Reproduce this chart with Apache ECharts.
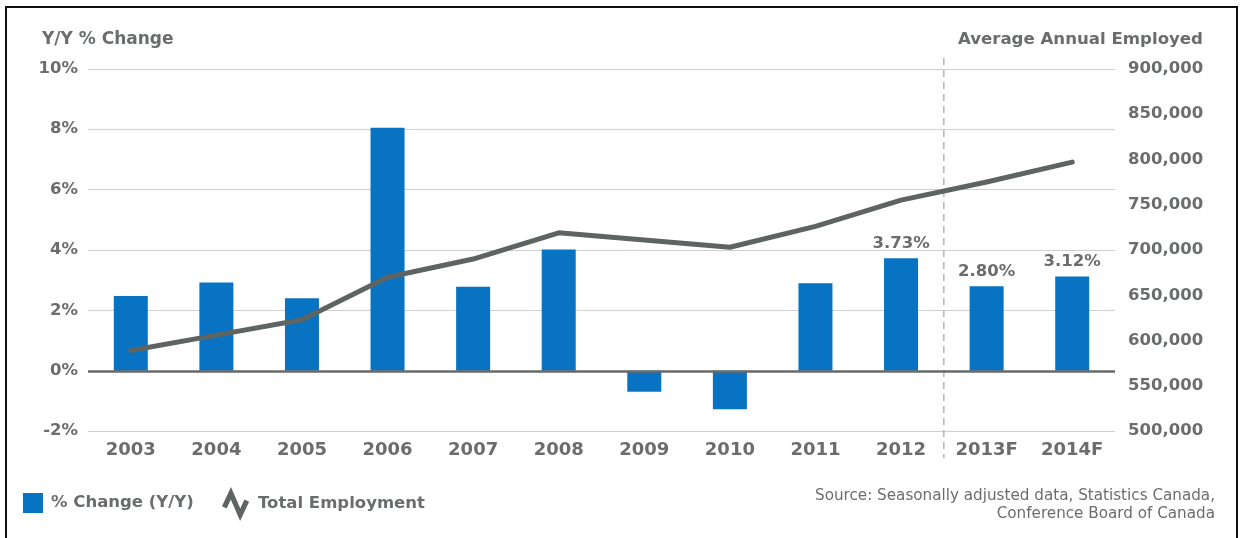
<!DOCTYPE html>
<html>
<head>
<meta charset="utf-8">
<script src="https://cdn.jsdelivr.net/npm/echarts@6/dist/echarts.min.js"></script>
<style>
  html, body { margin: 0; padding: 0; background: #ffffff; }
  #chart { width: 1244px; height: 538px; }
</style>
</head>
<body>
<div id="chart"></div>
<script>
// Employment: year-over-year % change (bars) and average annual employed (line)
var years = ['2003', '2004', '2005', '2006', '2007', '2008', '2009', '2010', '2011', '2012', '2013F', '2014F'];
var pctChange = [2.48, 2.92, 2.40, 8.05, 2.78, 4.02, -0.69, -1.27, 2.90, 3.73, 2.80, 3.12];
var totalEmployment = [589000, 606000, 623000, 670000, 690000, 719000, 711000, 703000, 726000, 755000, 775000, 797000];
var labeledYears = ['2012', '2013F', '2014F'];
var firstForecast = '2013F';

var pctAxis = { min: -2, max: 10, interval: 2 };
var empAxis = { min: 500000, max: 900000, interval: 50000 };

var sourceLines = ['Source: Seasonally adjusted data, Statistics Canada,', 'Conference Board of Canada'];

var GREY = '#6a6d6c';
var BLUE = '#0873c2';
var LINE = '#5e6462';
var FONT = 'DejaVu Sans';

var zigzagIcon = 'path://M0.5 20.5 L10.1 0 L20.1 23 L24.5 13.5 L29.5 15.9 L19.9 36.4 L9.9 13.4 L5.5 22.9 Z';

function withCommas(v) {
  return String(v).replace(/\B(?=(\d{3})+(?!\d))/g, ',');
}

var barData = pctChange.map(function (v, i) {
  return {
    value: v,
    label: { show: labeledYears.indexOf(years[i]) !== -1 }
  };
});

var chart = echarts.init(document.getElementById('chart'), null, { renderer: 'canvas' });

var option = {
  backgroundColor: '#ffffff',
  animation: false,
  textStyle: { fontFamily: FONT },
  title: [
    {
      text: 'Y/Y % Change', left: 37, top: 26,
      textStyle: { fontFamily: FONT, fontSize: 17, fontWeight: 'bold', color: GREY }
    },
    {
      text: 'Average Annual Employed', right: 36, top: 26,
      textStyle: { fontFamily: FONT, fontSize: 16.6, fontWeight: 'bold', color: GREY }
    }
  ],
  grid: { left: 88, right: 129, top: 68.8, bottom: 106.8 },
  legend: [
    {
      left: 23, top: 493, padding: 0,
      itemWidth: 20, itemHeight: 20,
      selectedMode: false,
      data: [{ name: '% Change (Y/Y)', icon: 'rect' }],
      textStyle: { fontFamily: FONT, fontSize: 16.5, fontWeight: 'bold', color: GREY, padding: [0, 0, 0, 3] }
    },
    {
      left: 222, top: 487, padding: 0,
      itemWidth: 31, itemHeight: 34,
      selectedMode: false,
      data: [{ name: 'Total Employment', icon: zigzagIcon, itemStyle: { color: LINE, borderWidth: 0 } }],
      textStyle: { fontFamily: FONT, fontSize: 16.5, fontWeight: 'bold', color: GREY, padding: [0, 0, 0, 2] }
    }
  ],
  xAxis: {
    type: 'category',
    data: years,
    axisLine: { show: false },
    axisTick: { show: false },
    axisLabel: { margin: 10, fontFamily: FONT, fontSize: 18, fontWeight: 'bold', color: GREY }
  },
  yAxis: [
    {
      type: 'value',
      min: pctAxis.min, max: pctAxis.max, interval: pctAxis.interval,
      axisLine: { show: false },
      axisTick: { show: false },
      axisLabel: {
        margin: 10, fontFamily: FONT, fontSize: 16.5, fontWeight: 'bold', color: GREY,
        formatter: '{value}%'
      },
      splitLine: { lineStyle: { color: '#cfcfcf', width: 1.2 } }
    },
    {
      type: 'value',
      min: empAxis.min, max: empAxis.max, interval: empAxis.interval,
      axisLine: { show: false },
      axisTick: { show: false },
      axisLabel: {
        margin: 13, fontFamily: FONT, fontSize: 16.5, fontWeight: 'bold', color: GREY,
        formatter: function (v) { return withCommas(v); }
      },
      splitLine: { show: false }
    }
  ],
  series: [
    {
      name: '% Change (Y/Y)',
      type: 'bar',
      yAxisIndex: 0,
      data: barData,
      barWidth: 34,
      itemStyle: { color: BLUE },
      label: {
        position: 'top', distance: 6,
        fontFamily: FONT, fontSize: 16.5, fontWeight: 'bold', color: GREY,
        formatter: function (p) { return p.value.toFixed(2) + '%'; }
      },
      markLine: {
        silent: true,
        symbol: ['none', 'none'],
        label: { show: false },
        lineStyle: { color: '#666a69', width: 2.5, type: 'solid' },
        data: [{ yAxis: 0 }]
      },
      z: 2
    },
    {
      name: 'Total Employment',
      type: 'line',
      yAxisIndex: 1,
      data: totalEmployment,
      symbol: 'none',
      lineStyle: { color: LINE, width: 5, join: 'round', cap: 'round' },
      itemStyle: { color: LINE },
      z: 5
    }
  ]
};

chart.setOption(option);

// Forecast divider between the last actual year and the first forecast year,
// plus the frame and source note.
var idx = years.indexOf(firstForecast);
var xPrev = chart.convertToPixel({ xAxisIndex: 0 }, years[idx - 1]);
var xNext = chart.convertToPixel({ xAxisIndex: 0 }, years[idx]);
var xDiv = (xPrev + xNext) / 2;

var sourceGraphics = sourceLines.map(function (line, i) {
  return {
    type: 'text',
    silent: true,
    x: 1215,
    y: 496 + i * 18,
    style: {
      text: line,
      align: 'right',
      verticalAlign: 'middle',
      font: '15.2px "DejaVu Sans"',
      fill: GREY
    }
  };
});

chart.setOption({
  graphic: [
    {
      type: 'line',
      silent: true,
      shape: { x1: xDiv, y1: 58, x2: xDiv, y2: 458 },
      style: { stroke: '#b5b5b5', lineWidth: 1.5, lineDash: [7, 5] },
      z: 1
    },
    {
      type: 'polyline',
      silent: true,
      shape: { points: [[6, 538], [6, 7], [1237, 7], [1237, 538]] },
      style: { stroke: '#111111', lineWidth: 2, fill: null }
    }
  ].concat(sourceGraphics)
});
</script>
</body>
</html>
